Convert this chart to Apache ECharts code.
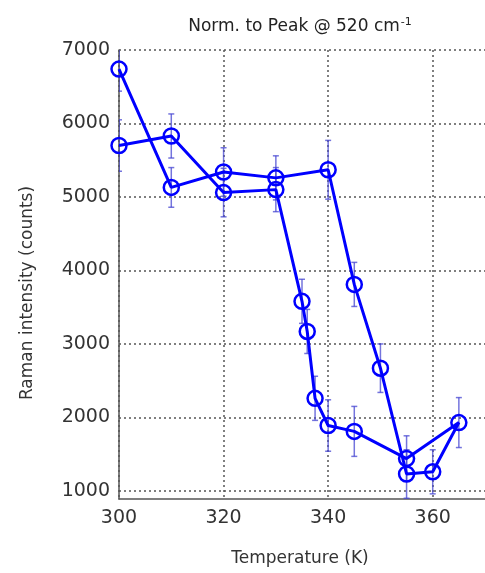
<!DOCTYPE html>
<html>
<head>
<meta charset="utf-8">
<script src="https://cdn.jsdelivr.net/npm/echarts@6/dist/echarts.min.js"></script>
<style>
html,body{margin:0;padding:0;background:#fff;}
#chart{width:485px;height:573px;}
</style>
</head>
<body>
<div id="chart"></div>
<script>
// Heating run (K, counts, error)
var heatingT   = [300, 310, 320, 330, 340, 345, 350, 355, 360, 365];
var heatingI   = [6740, 5130, 5340, 5260, 5370, 3810, 2670, 1230, 1260, 1930];
var heatingErr = [300, 270, 330, 300, 400, 300, 330, 330, 300, 340];
// Cooling run
var coolingT   = [355, 345, 340, 337.5, 336, 335, 330, 320, 310, 300];
var coolingI   = [1440, 1810, 1890, 2260, 3170, 3580, 5100, 5060, 5830, 5700];
var coolingErr = [310, 340, 350, 300, 300, 300, 300, 330, 300, 350];

var xTicks = [300, 320, 340, 360];
var titleMain = 'Norm. to Peak @ 520 cm';
var titleSup = '-1';
var xName = 'Temperature (K)';
var yName = 'Raman intensity (counts)';

var allT = heatingT.concat(coolingT);
var allI = heatingI.concat(coolingI);
var allE = heatingErr.concat(coolingErr);
var lineData = allT.map(function (t, i) { return [t, allI[i]]; });
var errData = allT.map(function (t, i) { return [t, allI[i], allE[i]]; });

var FONT = 'DejaVu Sans';
var chart = echarts.init(document.getElementById('chart'), null, {renderer: 'canvas'});
chart.setOption({
  animation: false,
  backgroundColor: '#fff',
  grid: {left: 119, right: 0, top: 50, bottom: 74, containLabel: false},
  xAxis: {
    type: 'value', min: 300, max: 370, interval: 20,
    name: xName, nameLocation: 'middle', nameGap: 51,
    nameTextStyle: {fontFamily: FONT, fontSize: 17, color: '#333', padding: [0, 4, 0, 0]},
    axisLine: {show: true, onZero: false, lineStyle: {color: '#555', width: 1.5}},
    axisTick: {show: false},
    axisLabel: {fontFamily: FONT, fontSize: 19, color: '#333', margin: 10, showMaxLabel: false,
      formatter: function (v) { return xTicks.indexOf(v) >= 0 ? String(v) : ''; }},
    splitLine: {show: true, showMaxLine: false, lineStyle: {color: '#555', width: 1.5, type: [2, 3]}}
  },
  yAxis: {
    type: 'value', min: 890, max: 7000, splitNumber: 6,
    axisLine: {show: true, onZero: false, lineStyle: {color: '#555', width: 1.5}},
    axisTick: {show: false},
    axisLabel: {fontFamily: FONT, fontSize: 19, color: '#333', margin: 9, showMinLabel: false,
      formatter: function (v) { return v % 1000 === 0 ? String(v) : ''; }},
    splitLine: {show: true, showMinLine: false, lineStyle: {color: '#555', width: 1.5, type: [2, 3]}}
  },
  graphic: [
    {type: 'text', x: 300, y: 27, z: 10,
     style: {text: '{a|' + titleMain + '}{s|' + titleSup + '}',
       textAlign: 'center', textVerticalAlign: 'middle',
       rich: {
         a: {fontFamily: FONT, fontSize: 17, fill: '#222'},
         s: {fontFamily: FONT, fontSize: 11, fill: '#222', verticalAlign: 'top', padding: [0,0,9,1]}
       }}},
    {type: 'text', x: 28, y: 293, rotation: Math.PI / 2, z: 10,
     style: {text: yName, fontFamily: FONT, fontSize: 17, fill: '#333', textAlign: 'center', textVerticalAlign: 'middle'}}
  ],
  series: [
    {
      type: 'custom', z: 1, clip: true,
      data: errData,
      renderItem: function (params, api) {
        var x = api.value(0), y = api.value(1), e = api.value(2);
        var top = api.coord([x, y + e]);
        var bot = api.coord([x, y - e]);
        var cap = 3;
        var st = {stroke: 'rgba(70,70,210,0.75)', lineWidth: 1.5};
        return {type: 'group', children: [
          {type: 'line', shape: {x1: top[0], y1: top[1], x2: bot[0], y2: bot[1]}, style: st},
          {type: 'line', shape: {x1: top[0]-cap, y1: top[1], x2: top[0]+cap, y2: top[1]}, style: st},
          {type: 'line', shape: {x1: bot[0]-cap, y1: bot[1], x2: bot[0]+cap, y2: bot[1]}, style: st}
        ]};
      }
    },
    {
      type: 'line', z: 2, data: lineData,
      symbol: 'circle', symbolSize: 15, showAllSymbol: true,
      lineStyle: {color: '#0000ff', width: 3},
      itemStyle: {color: 'rgba(0,0,0,0)', borderColor: '#0000ff', borderWidth: 2.5}
    }
  ]
});
</script>
</body>
</html>
